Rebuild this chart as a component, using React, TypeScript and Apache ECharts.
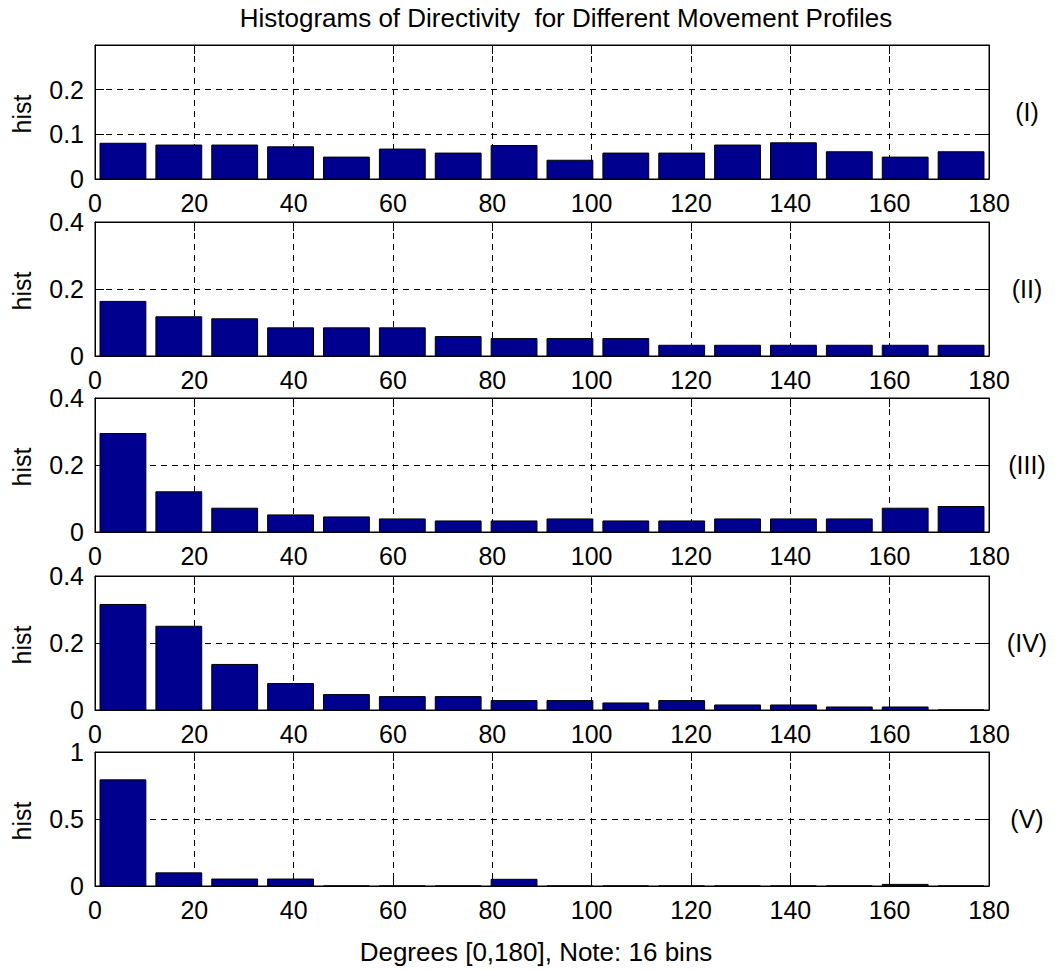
import React, { useEffect, useRef } from "react";
import * as echarts from "echarts";

// ---- Data ----
const binCenters = [5.625, 16.875, 28.125, 39.375, 50.625, 61.875, 73.125, 84.375, 95.625, 106.875, 118.125, 129.375, 140.625, 151.875, 163.125, 174.375];
const binWidth = 11.25;
const profileLabels = ["(I)", "(II)", "(III)", "(IV)", "(V)"];
const hist1 = [0.080, 0.076, 0.076, 0.072, 0.049, 0.067, 0.058, 0.075, 0.042, 0.058, 0.058, 0.076, 0.081, 0.061, 0.049, 0.061];
const hist2 = [0.163, 0.117, 0.111, 0.084, 0.084, 0.084, 0.058, 0.052, 0.052, 0.052, 0.032, 0.032, 0.032, 0.032, 0.032, 0.032];
const hist3 = [0.294, 0.120, 0.071, 0.051, 0.045, 0.039, 0.033, 0.033, 0.039, 0.033, 0.033, 0.039, 0.039, 0.039, 0.071, 0.076];
const hist4 = [0.315, 0.250, 0.136, 0.079, 0.046, 0.040, 0.040, 0.028, 0.028, 0.021, 0.028, 0.015, 0.015, 0.009, 0.009, 0];
const hist5 = [0.792, 0.098, 0.052, 0.052, 0, 0, 0, 0.050, 0, 0, 0, 0, 0, 0, 0.012, 0];
const histograms = [hist1, hist2, hist3, hist4, hist5];
const yMax = [0.3, 0.4, 0.4, 0.4, 1];
const yInterval = [0.1, 0.2, 0.2, 0.2, 0.5];
const xMin = 0;
const xMax = 180;
const xInterval = 20;
const titleText = "Histograms of Directivity  for Different Movement Profiles";
const xLabelText = "Degrees [0,180], Note: 16 bins";
const yLabelText = "hist";

// ---- Layout ----
const W = 1055;
const H = 971;
const gridLeft = 95;
const gridRight = 66;
const gridTops = [45, 222, 398, 576, 752];
const plotH = 134;
const FONT = "'Liberation Sans', Arial, Helvetica, sans-serif";
const FS = 25;
const BAR_FILL = "#00008F";
const DASH = [6, 5];

function buildOption() {
  const grids = gridTops.map((t) => ({
    left: gridLeft,
    right: gridRight,
    top: t,
    height: plotH,
    show: true,
    borderColor: "#000",
    borderWidth: 1,
    backgroundColor: "#fff",
  }));

  const xAxes: any[] = [];
  const yAxes: any[] = [];
  gridTops.forEach((_, i) => {
    xAxes.push({
      gridIndex: i,
      type: "value",
      position: "bottom",
      min: xMin,
      max: xMax,
      interval: xInterval,
      axisLine: { show: true, onZero: false, lineStyle: { color: "#000", width: 1 } },
      axisTick: { show: true, inside: true, length: 9, lineStyle: { color: "#000" } },
      axisLabel: { show: true, color: "#000", fontSize: FS, fontFamily: FONT, margin: 11 },
      splitLine: { show: true, lineStyle: { color: "#000", width: 1, type: DASH } },
    });
    xAxes.push({
      gridIndex: i,
      type: "value",
      position: "top",
      min: xMin,
      max: xMax,
      interval: xInterval,
      axisLine: { show: true, onZero: false, lineStyle: { color: "#000", width: 1 } },
      axisTick: { show: true, inside: true, length: 9, lineStyle: { color: "#000" } },
      axisLabel: { show: false },
      splitLine: { show: false },
    });
    yAxes.push({
      gridIndex: i,
      type: "value",
      position: "left",
      min: 0,
      max: yMax[i],
      interval: yInterval[i],
      axisLine: { show: true, onZero: false, lineStyle: { color: "#000", width: 1 } },
      axisTick: { show: true, inside: true, length: 9, lineStyle: { color: "#000" } },
      axisLabel: {
        show: true,
        color: "#000",
        fontSize: FS,
        fontFamily: FONT,
        margin: 11,
        showMaxLabel: i === 0 ? false : true,
      },
      splitLine: { show: true, lineStyle: { color: "#000", width: 1, type: DASH } },
    });
    yAxes.push({
      gridIndex: i,
      type: "value",
      position: "right",
      min: 0,
      max: yMax[i],
      interval: yInterval[i],
      axisLine: { show: true, onZero: false, lineStyle: { color: "#000", width: 1 } },
      axisTick: { show: true, inside: true, length: 9, lineStyle: { color: "#000" } },
      axisLabel: { show: false },
      splitLine: { show: false },
    });
  });

  const halfBar = (binWidth * 0.82) / 2;
  const series = histograms.map((h, i) => ({
    type: "custom",
    xAxisIndex: 2 * i,
    yAxisIndex: 2 * i,
    data: binCenters.map((c, k) => [c, h[k]]),
    renderItem: (params: any, api: any) => {
      const x = api.value(0);
      const y = api.value(1);
      const p0 = api.coord([x - halfBar, y]);
      const p1 = api.coord([x + halfBar, 0]);
      return {
        type: "rect",
        shape: { x: p0[0], y: p0[1], width: p1[0] - p0[0], height: p1[1] - p0[1] },
        style: { fill: BAR_FILL, stroke: "#000", lineWidth: 1 },
      };
    },
  }));

  const textStyle = (extra: any) => ({
    fill: "#000",
    fontSize: FS,
    fontFamily: FONT,
    align: "center",
    verticalAlign: "middle",
    textAlign: "center",
    textVerticalAlign: "middle",
    ...extra,
  });

  const graphics: any[] = [
    {
      type: "text",
      x: 566,
      y: 18,
      style: textStyle({ text: titleText, fontSize: 26 }),
    },
    {
      type: "text",
      x: 536,
      y: 952,
      style: textStyle({ text: xLabelText, fontSize: 26 }),
    },
  ];
  gridTops.forEach((t, i) => {
    graphics.push({
      type: "text",
      x: 22,
      y: t + plotH / 2 + 2,
      rotation: Math.PI / 2,
      style: textStyle({ text: yLabelText }),
    });
    graphics.push({
      type: "text",
      x: 1027,
      y: t + plotH / 2,
      style: textStyle({ text: profileLabels[i] }),
    });
  });

  return {
    animation: false,
    backgroundColor: "#fff",
    textStyle: { fontFamily: FONT },
    grid: grids,
    xAxis: xAxes,
    yAxis: yAxes,
    series,
    graphic: graphics,
  };
}

export default function App() {
  const ref = useRef<HTMLDivElement>(null);
  useEffect(() => {
    document.body.style.margin = "0";
    if (!ref.current) return;
    const chart = echarts.init(ref.current, undefined, { renderer: "svg", width: W, height: H });
    chart.setOption(buildOption() as any);
    return () => {
      chart.dispose();
    };
  }, []);
  return <div ref={ref} style={{ width: W, height: H }} />;
}
